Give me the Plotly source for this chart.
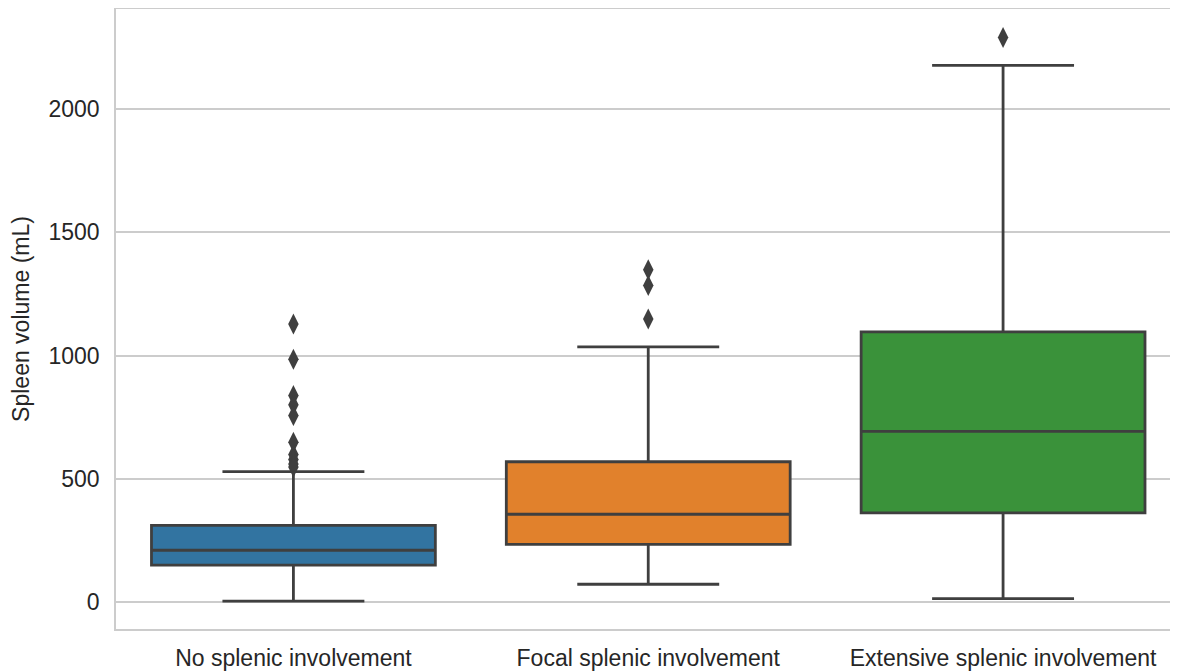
import plotly.graph_objects as go

categories = ["No splenic involvement", "Focal splenic involvement", "Extensive splenic involvement"]
q1 = [150, 234, 362]
median = [210, 356, 692]
q3 = [311, 569, 1096]
lower_whisker = [4, 72, 14]
upper_whisker = [529, 1035, 2177]
outliers = [
    [1128, 985, 838, 800, 757, 648, 598, 578, 560, 548],
    [1348, 1284, 1148],
    [2290],
]
fill_colors = ["#3274a1", "#e1812c", "#3a923a"]
line_color = "#3f3f3f"

fig = go.Figure()
for i, cat in enumerate(categories):
    fig.add_trace(go.Box(
        x=[cat], q1=[q1[i]], median=[median[i]], q3=[q3[i]],
        lowerfence=[lower_whisker[i]], upperfence=[upper_whisker[i]],
        fillcolor=fill_colors[i], line=dict(color=line_color, width=2.8),
        width=0.8, whiskerwidth=0.5, boxpoints=False, showlegend=False,
    ))
    fig.add_trace(go.Scatter(
        x=[cat] * len(outliers[i]), y=outliers[i], mode="markers",
        marker=dict(symbol="diamond-tall", size=15, color=line_color),
        showlegend=False,
    ))

fig.update_layout(
    width=1170, height=665,
    margin=dict(l=108, r=0, t=1, b=44, autoexpand=False),
    plot_bgcolor="white", paper_bgcolor="white",
    boxmode="overlay",
    font=dict(family="Liberation Sans, Arial, sans-serif", size=23, color="#262626"),
)
fig.update_xaxes(
    type="category", categoryorder="array", categoryarray=categories,
    range=[-0.5, 2.493], showgrid=False, showline=True, linecolor="#cccccc",
    linewidth=1.5, mirror=True, ticks="", ticklabelstandoff=8,
    tickfont=dict(size=23, color="#262626"), automargin=False,
)
fig.update_yaxes(
    range=[-109.5, 2406], tickvals=[0, 500, 1000, 1500, 2000],
    showgrid=True, gridcolor="#cccccc", gridwidth=1.5, zeroline=False,
    showline=True, linecolor="#cccccc", linewidth=1.5, ticks="", ticklabelstandoff=10,
    title=dict(text="Spleen volume (mL)", font=dict(size=23, color="#262626"), standoff=12),
    tickfont=dict(size=23, color="#262626"), automargin=False,
)
fig.write_html("out.html")
